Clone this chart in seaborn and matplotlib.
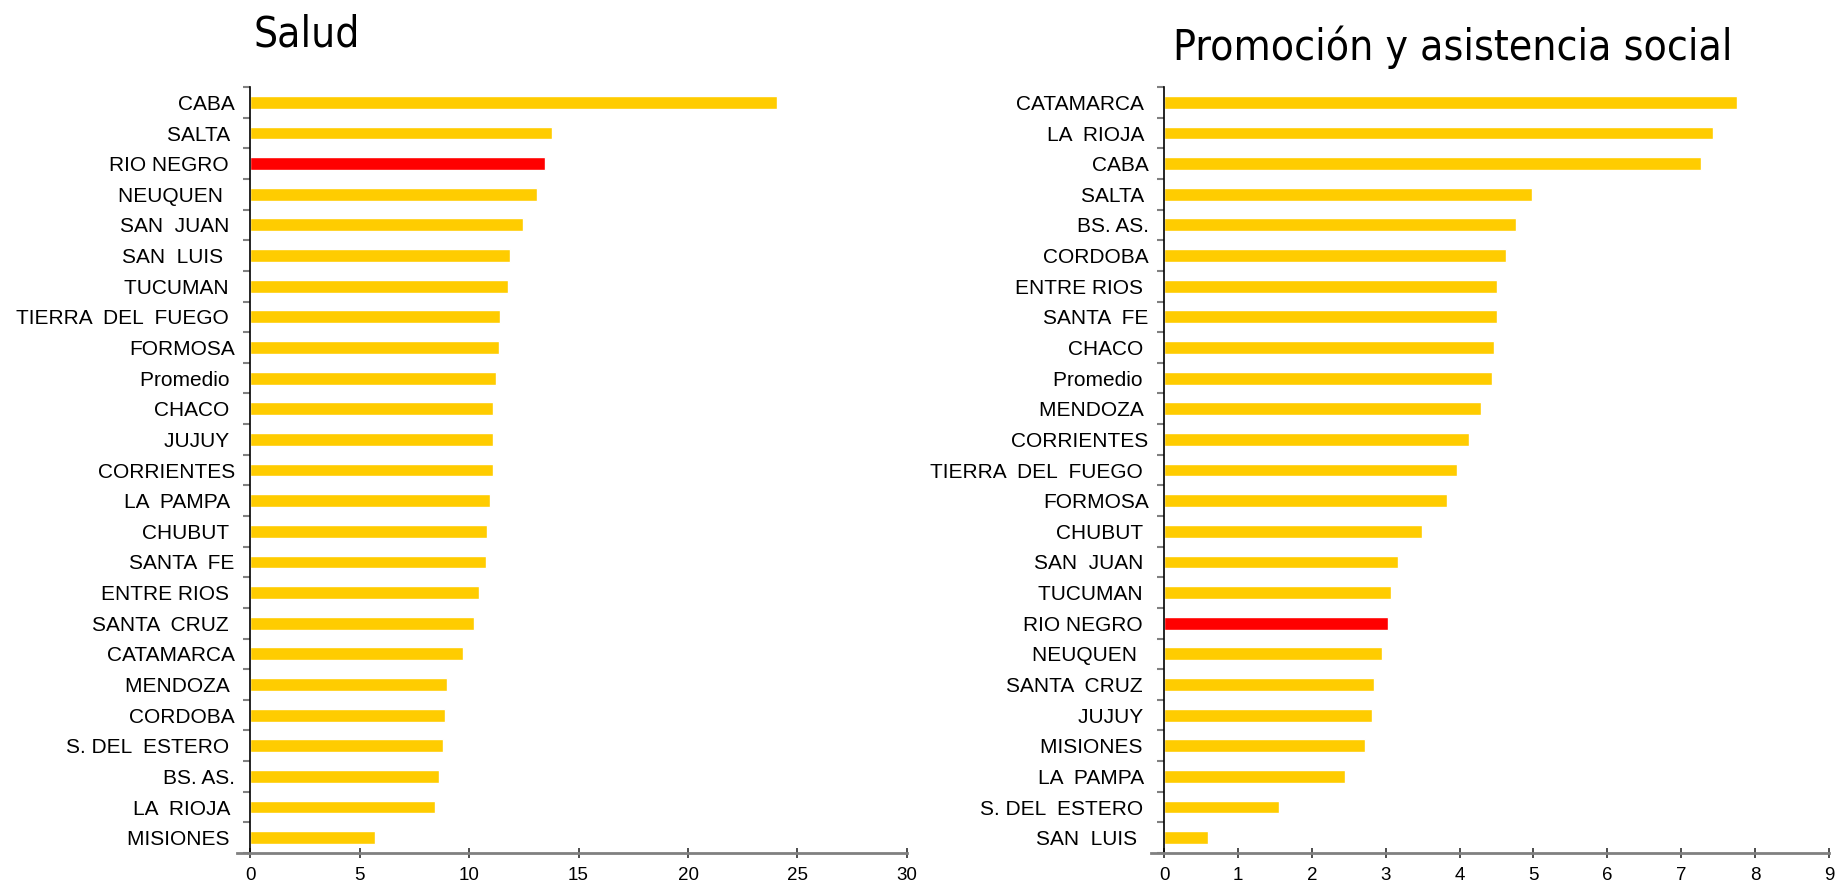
import numpy as np
import pandas as pd
import seaborn as sns
import matplotlib.pyplot as plt

# Salud
salud_prov = ['CABA', 'SALTA ', 'RIO NEGRO ', 'NEUQUEN  ', 'SAN  JUAN ', 'SAN  LUIS  ', 'TUCUMAN ',
              'TIERRA  DEL  FUEGO ', 'FORMOSA', 'Promedio ', 'CHACO ', 'JUJUY ', 'CORRIENTES',
              'LA  PAMPA ', 'CHUBUT ', 'SANTA  FE', 'ENTRE RIOS ', 'SANTA  CRUZ ', 'CATAMARCA',
              'MENDOZA ', 'CORDOBA', 'S. DEL  ESTERO ', 'BS. AS.', 'LA  RIOJA ', 'MISIONES ']
salud_vals = [24.08, 13.79, 13.47, 13.11, 12.46, 11.87, 11.78, 11.41, 11.36, 11.24, 11.10, 11.10,
              11.10, 10.96, 10.82, 10.77, 10.45, 10.23, 9.72, 8.99, 8.90, 8.81, 8.64, 8.45, 5.71]

# Promocion y asistencia social
promo_prov = ['CATAMARCA ', 'LA  RIOJA ', 'CABA', 'SALTA ', 'BS. AS.', 'CORDOBA', 'ENTRE RIOS ',
              'SANTA  FE', 'CHACO ', 'Promedio ', 'MENDOZA ', 'CORRIENTES', 'TIERRA  DEL  FUEGO ',
              'FORMOSA', 'CHUBUT ', 'SAN  JUAN ', 'TUCUMAN ', 'RIO NEGRO ', 'NEUQUEN  ',
              'SANTA  CRUZ ', 'JUJUY ', 'MISIONES ', 'LA  PAMPA ', 'S. DEL  ESTERO ', 'SAN  LUIS  ']
promo_vals = [7.75, 7.43, 7.27, 4.98, 4.77, 4.63, 4.51, 4.51, 4.47, 4.44, 4.29, 4.13, 3.96,
              3.83, 3.49, 3.16, 3.07, 3.03, 2.95, 2.84, 2.81, 2.72, 2.45, 1.55, 0.60]

YELLOW = '#FFCC00'
RED = '#FF0000'


def draw(ax, provs, vals, xmax, step, title, title_x, title_y):
    df = pd.DataFrame({'prov': provs, 'val': vals})
    pal = {p: (RED if p.strip() == 'RIO NEGRO' else YELLOW) for p in provs}
    sns.barplot(data=df, x='val', y='prov', hue='prov', palette=pal, legend=False,
                orient='h', width=0.42, saturation=1, ax=ax)
    ax.set_xlim(0, xmax)
    ax.set_ylim(len(provs) - 0.5, -0.5)
    ax.set_xticks(np.arange(0, xmax + step, step))
    ax.set_xlabel('')
    ax.set_ylabel('')
    # category labels in the middle, ticks on the boundaries
    ax.set_yticks(np.arange(len(provs)))
    ax.set_yticklabels(provs, fontsize=15, family='Liberation Sans', color='black')
    ax.tick_params(axis='y', which='major', left=True, length=0, pad=11)
    ax.set_yticks(np.arange(-0.5, len(provs)), minor=True)
    ax.tick_params(axis='y', which='minor', left=True, length=5, width=1.5,
                   color='#808080', direction='out')
    ax.tick_params(axis='x', bottom=True, length=7, width=1.2, direction='inout',
                   color='#303030', labelsize=13.5, labelcolor='black', pad=6.5)
    for lbl in ax.get_xticklabels():
        lbl.set_family('Liberation Sans')
    for s in ['top', 'right']:
        ax.spines[s].set_visible(False)
    ax.spines['left'].set_color('black')
    ax.spines['left'].set_linewidth(1.2)
    ax.spines['bottom'].set_color('#808080')
    ax.spines['bottom'].set_linewidth(2)
    ax.spines['bottom'].set_bounds(-xmax * 0.02, xmax)
    ax.figure.text(title_x, title_y, title, fontsize=30.5, family='DejaVu Sans',
                   fontstretch='condensed', color='black', ha='left', va='center')


sns.set_style('white')
fig = plt.figure(figsize=(18.36, 8.92), dpi=100)
ax1 = fig.add_axes([0.1362, 0.0437, 0.3578, 0.8587])
ax2 = fig.add_axes([0.634, 0.0437, 0.3622, 0.8587])

draw(ax1, salud_prov, salud_vals, 30, 5, 'Salud', 0.138, 0.961)
draw(ax2, promo_prov, promo_vals, 9, 1, 'Promoción y asistencia social', 0.639, 0.947)

fig.savefig('out.png', dpi=100)
